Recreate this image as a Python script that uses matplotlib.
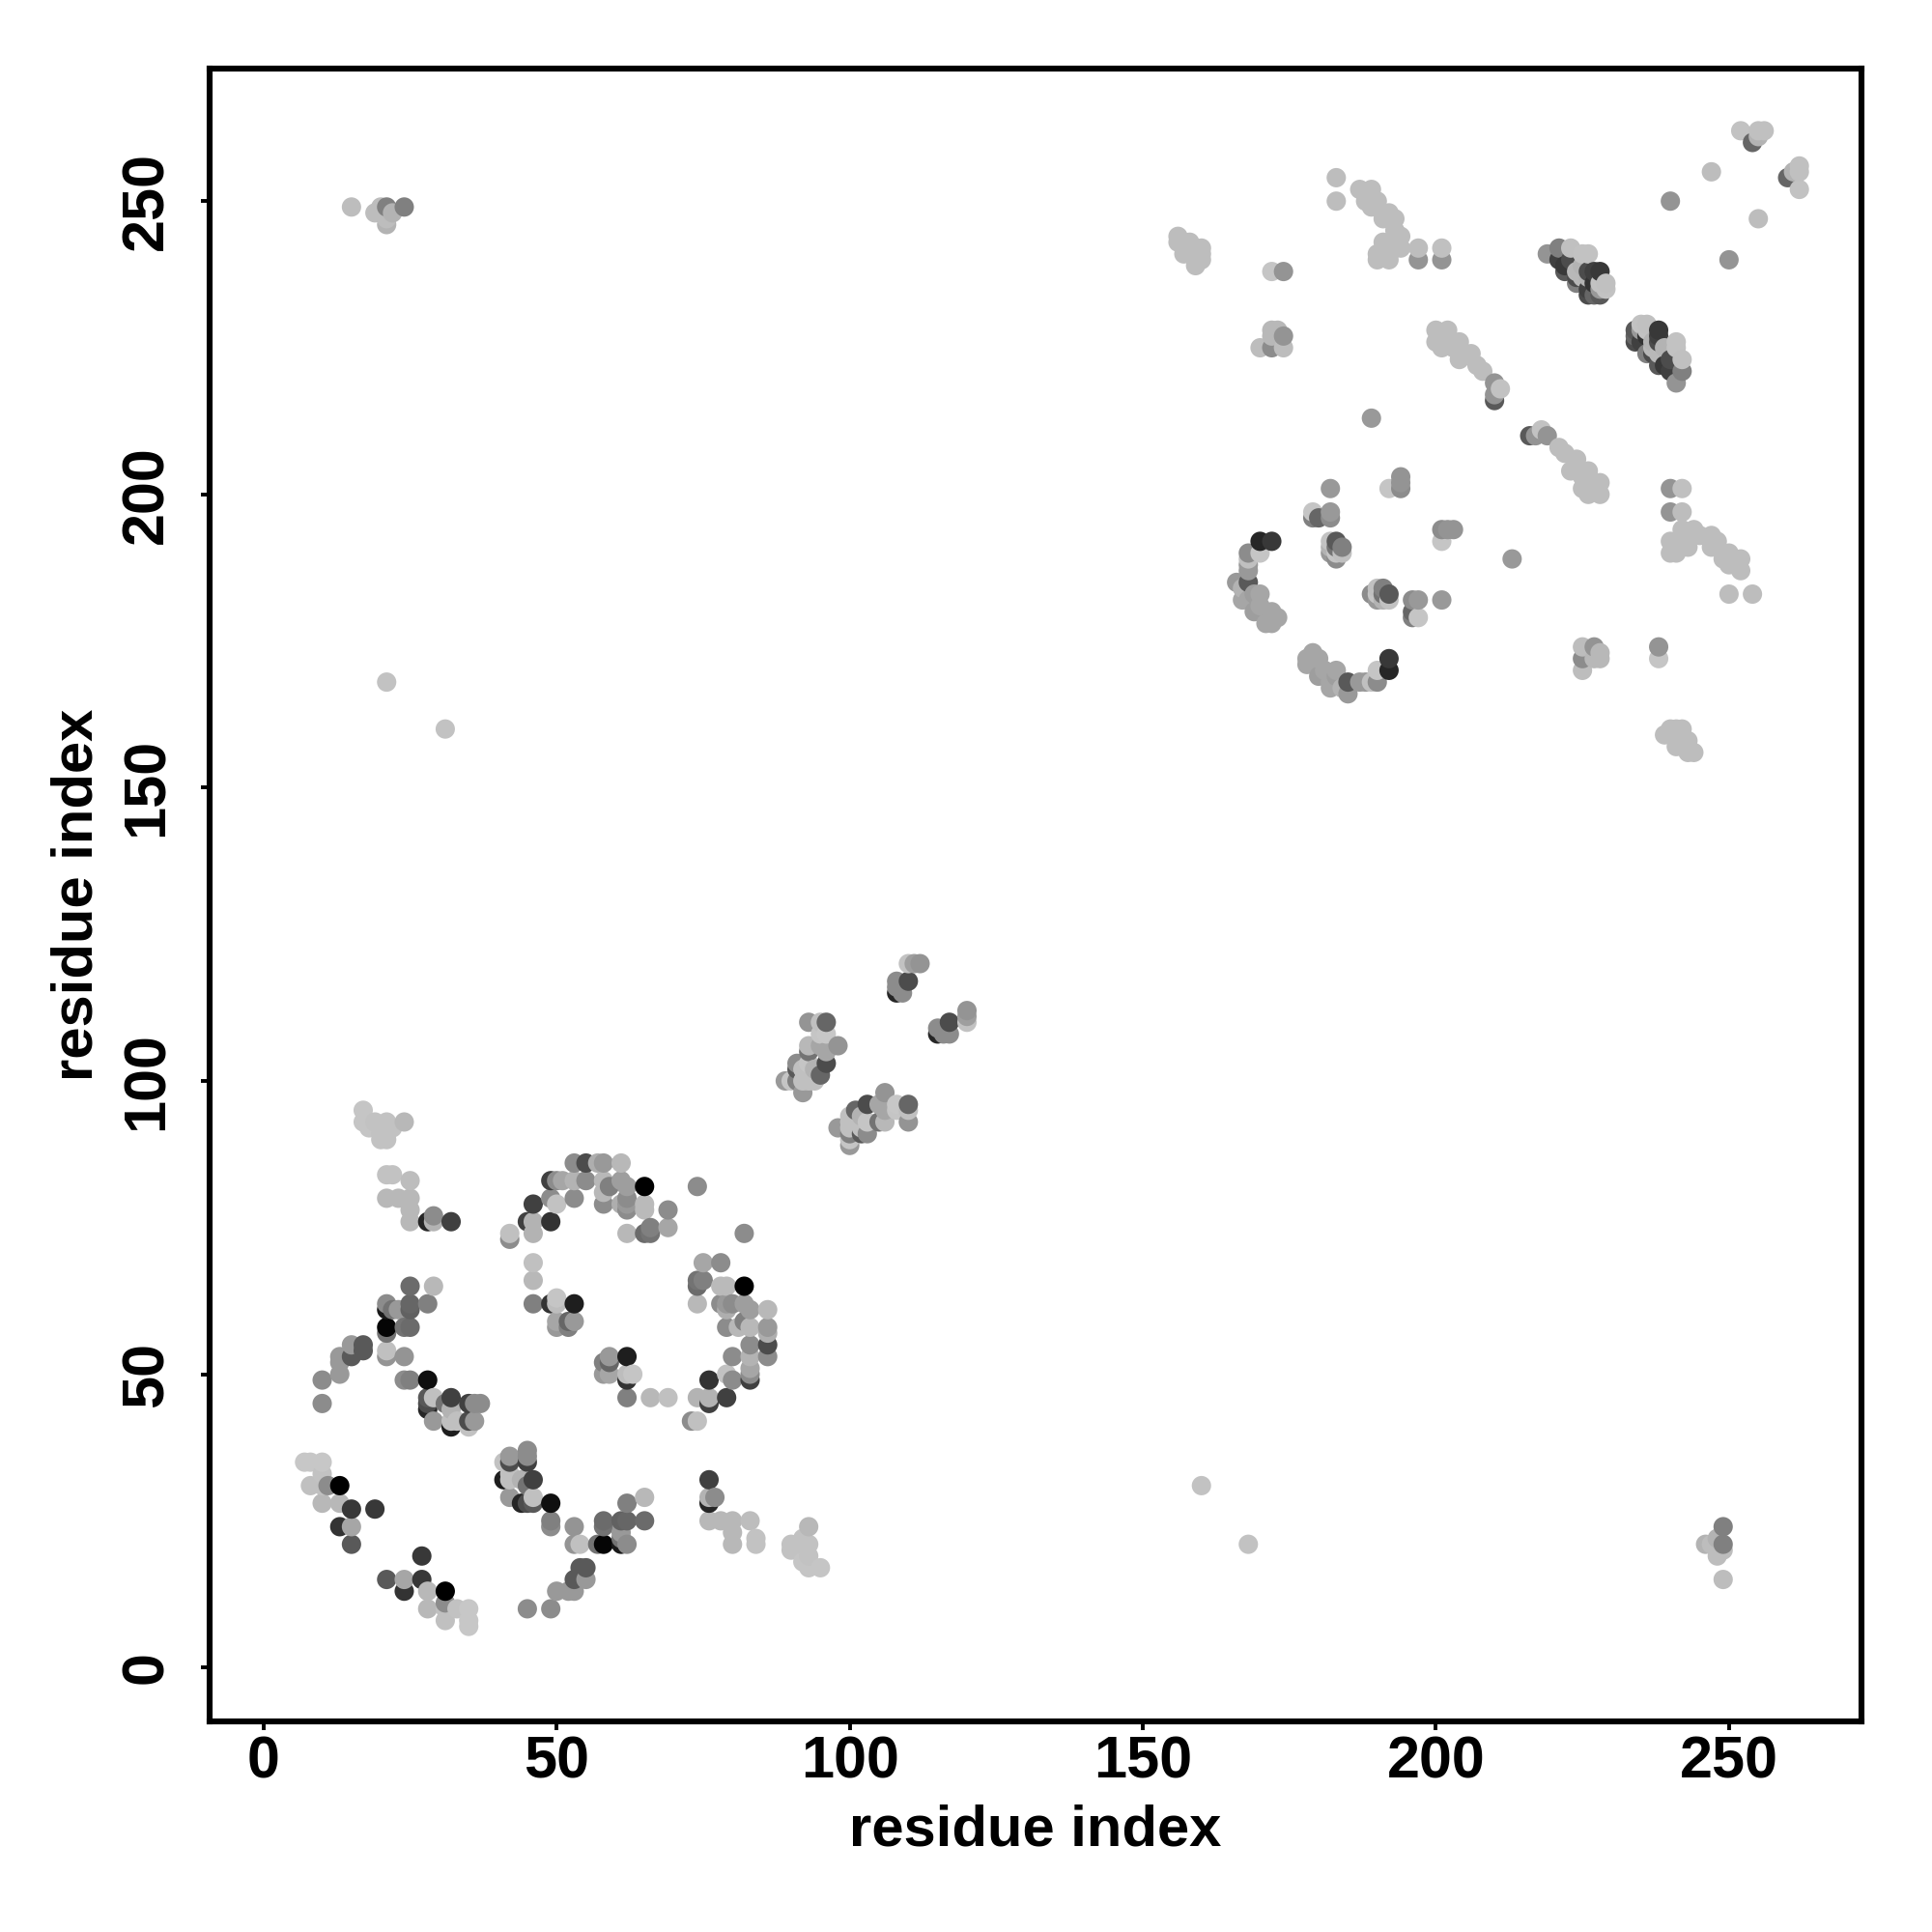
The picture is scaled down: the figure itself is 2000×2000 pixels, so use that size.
import numpy as np
import matplotlib
matplotlib.use("Agg")
import matplotlib.pyplot as plt

# contact map, each entry is (residue i, residue j, grey level), i < j
# the plot is symmetric so only one half is listed
contacts_n_term = [
    (7, 35, .78), (8, 35, .78), (10, 35, .78), (8, 31, .75), (10, 31, .75), (11, 31, .55),
    (13, 31, .0), (10, 33, .76), (10, 28, .72), (13, 28, .72), (15, 27, .22), (19, 27, .22),
    (13, 24, .2), (15, 24, .65), (15, 21, .35),
]
contacts_loop_a = [
    (35, 41, .76), (36, 42, .6), (35, 42, .3), (32, 41, .12), (32, 42, .75), (33, 42, .75),
    (29, 42, .6), (37, 45, .55), (36, 45, .55), (35, 45, .25), (32, 44, .7), (32, 46, .25),
    (31, 45, .45), (28, 44, .15), (28, 45, .3), (29, 46, .75), (28, 46, .35), (28, 49, .06),
    (25, 49, .5), (24, 49, .55), (24, 53, .58), (21, 53, .58), (21, 54, .75), (21, 57, .45),
    (21, 58, .02), (25, 58, .42), (24, 58, .45), (21, 61, .1), (25, 61, .38), (25, 62, .4),
    (21, 62, .55), (23, 61, .6), (22, 61, .45), (28, 62, .5), (25, 65, .42), (29, 65, .72),
    (15, 53, .35), (15, 55, .6), (17, 55, .35), (17, 54, .35), (13, 53, .6), (13, 52, .6),
    (13, 50, .6), (10, 49, .55), (10, 45, .55),
]
contacts_loop_b = [
    (32, 76, .25), (29, 77, .55), (28, 76, .15), (29, 76, .7), (25, 76, .72), (25, 78, .72),
    (25, 80, .72), (25, 83, .74), (21, 80, .72), (23, 80, .72), (21, 84, .76), (22, 84, .76),
    (17, 95, .77), (17, 93, .77), (18, 92, .77), (19, 93, .76), (20, 91, .76), (21, 90, .76),
    (20, 90, .76), (21, 93, .76), (22, 92, .76), (24, 93, .72),
]
contacts_ring = [
    (42, 74, .75), (42, 73, .55), (45, 76, .25), (46, 76, .7), (46, 74, .7), (46, 79, .25),
    (49, 76, .2), (49, 80, .55), (50, 79, .76), (49, 83, .25), (50, 83, .55), (51, 83, .65),
    (53, 83, .7), (53, 80, .55), (53, 86, .55), (55, 86, .3), (57, 86, .68), (58, 86, .6),
    (61, 86, .72), (55, 83, .55), (58, 83, .72), (59, 82, .5), (61, 83, .62), (62, 82, .62),
    (65, 82, .0), (58, 79, .55), (61, 79, .68), (62, 78, .55), (62, 80, .55), (65, 79, .73),
    (65, 78, .73), (69, 78, .55), (62, 74, .72), (65, 74, .42), (66, 75, .5), (66, 74, .45),
    (69, 75, .65), (74, 82, .55), (62, 79, .6), (58, 81, .72), (46, 69, .75), (46, 66, .72),
    (46, 62, .5), (49, 62, .2), (50, 63, .77), (50, 62, .74), (53, 62, .12), (50, 59, .65),
    (50, 58, .6), (52, 59, .4), (52, 58, .5), (53, 59, .6),
]
contacts_mid = [
    (93, 110, .58), (95, 110, .75), (96, 110, .4), (95, 108, .77), (96, 108, .78), (93, 106, .72),
    (95, 106, .65), (96, 105, .65), (98, 106, .58), (93, 105, .45), (91, 103, .55), (91, 102, .35),
    (92, 102, .75), (93, 103, .77), (96, 103, .3), (95, 101, .4), (89, 100, .6), (90, 100, .77),
    (91, 100, .5), (92, 98, .6), (94, 100, .75), (93, 100, .75), (92, 100, .75), (94, 102, .7),
    (110, 120, .76), (111, 120, .62), (112, 120, .58), (108, 116, .55), (110, 117, .3),
    (108, 115, .15), (109, 115, .55), (108, 117, .55),
]
contacts_far = [
    (21, 168, .76), (31, 160, .76), (15, 249, .74), (19, 248, .74), (20, 249, .74), (21, 246, .7),
    (20, 248, .74), (21, 247, .74), (21, 249, .5), (22, 248, .7), (24, 249, .5),
]
contacts_arc = [
    (166, 185, .6), (167, 184, .7), (168, 185, .35), (168, 187, .6), (168, 188, .6), (168, 189, .75),
    (168, 190, .55), (170, 190, .77), (170, 192, .15), (172, 192, .22), (167, 182, .65), (168, 182, .65),
    (169, 183, .62), (170, 183, .65), (170, 181, .65), (169, 180, .62), (172, 180, .65), (173, 179, .65),
    (171, 178, .65), (172, 178, .65), (179, 197, .77), (179, 196, .5), (180, 196, .4), (182, 197, .6),
    (182, 196, .55), (182, 192, .76), (183, 192, .35), (184, 191, .5), (182, 191, .7), (182, 190, .6),
    (183, 189, .55), (183, 190, .77), (184, 190, .75), (183, 191, .45), (182, 201, .6), (192, 201, .77),
    (194, 201, .55), (194, 202, .58), (194, 203, .58), (189, 213, .6),
]
contacts_strand_a = [
    (172, 238, .77), (174, 238, .58), (172, 228, .72), (172, 227, .72), (174, 227, .58), (170, 225, .74),
    (172, 225, .55), (174, 225, .74), (173, 228, .72), (183, 254, .74), (183, 250, .74), (156, 244, .74),
    (156, 243, .74), (158, 243, .74), (157, 241, .74), (160, 242, .74), (160, 240, .74), (159, 239, .74),
    (160, 241, .74),
]
contacts_strand_b = [
    (187, 252, .74), (189, 252, .74), (190, 250, .74), (188, 250, .74), (189, 249, .74), (191, 248, .74),
    (192, 248, .74), (193, 247, .74), (191, 247, .74), (193, 245, .74), (194, 244, .74), (193, 242, .74),
    (191, 243, .74), (190, 240, .74), (192, 240, .74), (190, 241, .74), (192, 241, .74), (194, 242, .74),
    (197, 242, .74), (197, 240, .58), (201, 242, .75), (201, 240, .58),
]
contacts_strand_c = [
    (200, 228, .74), (202, 228, .74), (200, 226, .74), (201, 225, .74), (204, 226, .74), (204, 223, .74),
    (206, 224, .74), (207, 222, .74), (208, 221, .74), (203, 225, .74), (204, 225, .74), (201, 227, .74),
    (210, 219, .58), (211, 218, .76), (210, 217, .58), (210, 216, .35),
]
contacts_dark = [
    (219, 241, .58), (221, 242, .5), (223, 242, .75), (226, 241, .76), (225, 241, .76), (221, 240, .25),
    (222, 239, .22), (222, 238, .35), (223, 240, .3), (224, 238, .72), (225, 239, .7), (225, 237, .72),
    (226, 238, .3), (227, 238, .25), (228, 238, .22), (229, 236, .75), (228, 236, .76), (228, 235, .6),
    (228, 234, .35), (226, 235, .25), (227, 236, .2), (226, 237, .7), (224, 237, .3), (224, 236, .5),
    (226, 234, .3), (227, 234, .4), (229, 235, .76),
]
contacts_end = [
    (240, 250, .58), (247, 255, .74), (252, 262, .76), (254, 260, .4), (255, 262, .75), (256, 262, .75),
    (255, 261, .7),
]

all_contacts = (contacts_n_term + contacts_loop_a + contacts_loop_b + contacts_ring + contacts_mid
                + contacts_far + contacts_arc + contacts_strand_a + contacts_strand_b
                + contacts_strand_c + contacts_dark + contacts_end)

i = np.array([c[0] for c in all_contacts])
j = np.array([c[1] for c in all_contacts])
level = np.array([c[2] for c in all_contacts])

# mirror across the diagonal, drawn in order of x then y like the original
x = np.concatenate([i, j])
y = np.concatenate([j, i])
c = np.concatenate([level, level])
order = np.lexsort((y, x))

plt.rcParams["font.family"] = ["Liberation Sans", "DejaVu Sans"]
plt.rcParams["font.weight"] = "bold"

fig = plt.figure(figsize=(10, 10), dpi=200)
ax = fig.add_axes([217 / 2000, 1 - 1782 / 2000, 1710 / 2000, 1711 / 2000])
ax.scatter(x[order], y[order], c=c[order], cmap="gray", vmin=0, vmax=1, s=52, linewidths=0)

ax.set_xlim(-9.2, 272.6)
ax.set_ylim(-9.2, 272.6)
ax.set_xticks([0, 50, 100, 150, 200, 250])
ax.set_yticks([0, 50, 100, 150, 200, 250])
ax.tick_params(axis="both", width=1.4, length=3.3, labelsize=22)
ax.tick_params(axis="x", pad=2)
ax.tick_params(axis="y", pad=9.5)
plt.setp(ax.get_yticklabels(), rotation=90, va="center")
for side in ax.spines.values():
    side.set_linewidth(2.2)

ax.set_xlabel("residue index", fontsize=21.5, fontweight="bold", labelpad=5)
ax.set_ylabel("residue index", fontsize=21.5, fontweight="bold", labelpad=6)

fig.savefig("out.png", dpi=200)
